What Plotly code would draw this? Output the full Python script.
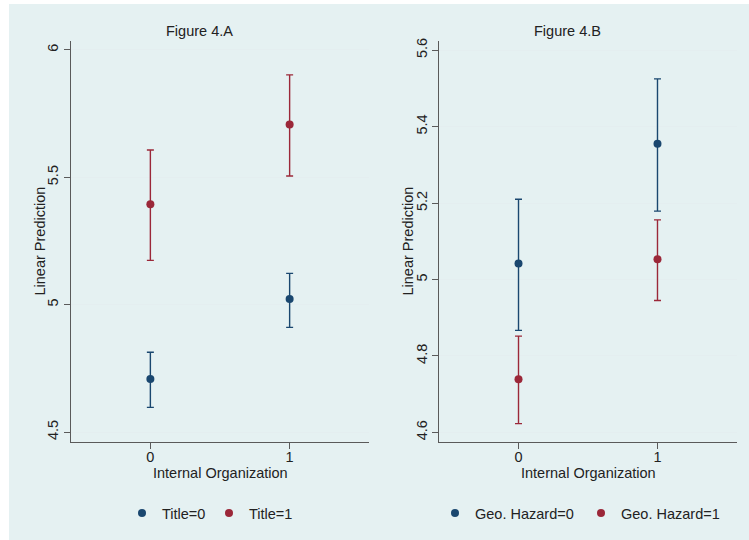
import plotly.graph_objects as go
from plotly.subplots import make_subplots

# Internal Organization levels on the x axis
org_levels = [0, 1]

# Figure 4.A: margins by Title
title0_est = [4.708, 5.022]
title0_lo = [4.597, 4.911]
title0_hi = [4.813, 5.123]
title1_est = [5.394, 5.707]
title1_lo = [5.174, 5.505]
title1_hi = [5.607, 5.902]

# Figure 4.B: margins by Geo. Hazard
geo0_est = [5.042, 5.355]
geo0_lo = [4.867, 5.179]
geo0_hi = [5.210, 5.525]
geo1_est = [4.739, 5.053]
geo1_lo = [4.623, 4.945]
geo1_hi = [4.852, 5.156]

# Tick labels
ytick_a = [4.5, 5, 5.5, 6]
ytick_a_text = ["4.5", "5", "5.5", "6"]
ytick_b = [4.6, 4.8, 5.0, 5.2, 5.4, 5.6]
ytick_b_text = ["4.6", "4.8", "5", "5.2", "5.4", "5.6"]
xtick_text = ["0", "1"]

NAVY = "#1a476f"
MAROON = "#9b2839"
BG = "#e5f1f2"
GRID = "#e4eef0"
AXIS = "#5a5a5a"
FONT = "Liberation Sans, Arial, Helvetica, sans-serif"
FS = 14.5
W, H = 749, 540

fig = make_subplots(rows=1, cols=2)


def add_series(est, lo, hi, color, name, col, legend):
    fig.add_trace(
        go.Scatter(
            x=org_levels,
            y=est,
            mode="markers",
            name=name,
            legend=legend,
            marker=dict(color=color, size=8),
            error_y=dict(
                type="data",
                symmetric=False,
                array=[h - e for h, e in zip(hi, est)],
                arrayminus=[e - l for e, l in zip(est, lo)],
                color=color,
                thickness=1.4,
                width=3.5,
            ),
        ),
        row=1,
        col=col,
    )


add_series(title0_est, title0_lo, title0_hi, NAVY, "Title=0", 1, "legend")
add_series(title1_est, title1_lo, title1_hi, MAROON, "Title=1", 1, "legend")
add_series(geo0_est, geo0_lo, geo0_hi, NAVY, "Geo. Hazard=0", 2, "legend2")
add_series(geo1_est, geo1_lo, geo1_hi, MAROON, "Geo. Hazard=1", 2, "legend2")

y_top = 1 - 41 / H
y_bot = 1 - 442 / H
dom_a = [71 / W, 369 / W]
dom_b = [439.3 / W, 736.7 / W]

common_x = dict(
    range=[-0.57, 1.57],
    tickvals=org_levels,
    ticktext=xtick_text,
    ticks="outside",
    ticklen=6,
    tickcolor=AXIS,
    showline=True,
    linecolor=AXIS,
    linewidth=1,
    showgrid=False,
    zeroline=False,
    tickfont=dict(size=FS, color="#222"),
    ticklabelstandoff=-4,
    automargin=False,
)
common_y = dict(
    ticks="outside",
    ticklen=6,
    tickcolor=AXIS,
    showline=True,
    linecolor=AXIS,
    linewidth=1,
    showgrid=True,
    gridcolor=GRID,
    gridwidth=1.2,
    zeroline=False,
    tickangle=-90,
    tickfont=dict(size=FS, color="#222"),
    domain=[y_bot, y_top],
    automargin=False,
)

fig.update_layout(
    xaxis=dict(common_x, domain=dom_a, anchor="y"),
    xaxis2=dict(common_x, domain=dom_b, anchor="y2"),
    yaxis=dict(common_y, range=[4.461, 6.035], tickvals=ytick_a, ticktext=ytick_a_text, anchor="x"),
    yaxis2=dict(common_y, range=[4.575, 5.624], tickvals=ytick_b, ticktext=ytick_b_text, anchor="x2"),
)

# Shared light background, leaving a thin white edge at top and left
fig.add_shape(
    type="rect", xref="paper", yref="paper",
    x0=9 / W, x1=1, y0=0, y1=1 - 4 / H,
    fillcolor=BG, line=dict(width=0), layer="below",
)

ann = dict(xref="paper", yref="paper", showarrow=False, font=dict(size=FS, color="#222"))
fig.add_annotation(ann, text="Figure 4.A", x=199 / W, y=1 - 31 / H, xanchor="center", yanchor="middle")
fig.add_annotation(ann, text="Figure 4.B", x=567.5 / W, y=1 - 31 / H, xanchor="center", yanchor="middle")
fig.add_annotation(ann, text="Internal Organization", x=220 / W, y=1 - 473 / H, xanchor="center", yanchor="middle")
fig.add_annotation(ann, text="Internal Organization", x=588 / W, y=1 - 473 / H, xanchor="center", yanchor="middle")
fig.add_annotation(ann, text="Linear Prediction", x=40 / W, y=1 - 241.5 / H, textangle=-90, xanchor="center", yanchor="middle")
fig.add_annotation(ann, text="Linear Prediction", x=408 / W, y=1 - 241.5 / H, textangle=-90, xanchor="center", yanchor="middle")

leg = dict(
    orientation="h",
    xanchor="left",
    yanchor="middle",
    y=1 - 513 / H,
    bgcolor="rgba(0,0,0,0)",
    font=dict(size=FS, color="#222", family=FONT),
    itemwidth=30,
    entrywidthmode="pixels",
)
fig.update_layout(
    legend=dict(leg, x=(143 - 21) / W, entrywidth=42),
    legend2=dict(leg, x=(456 - 21) / W, entrywidth=101),
    showlegend=True,
    width=W,
    height=H,
    margin=dict(l=0, r=0, t=0, b=0, autoexpand=False),
    paper_bgcolor="white",
    plot_bgcolor="white",
    font=dict(family=FONT, size=FS, color="#222"),
)

fig.write_html("out.html")
